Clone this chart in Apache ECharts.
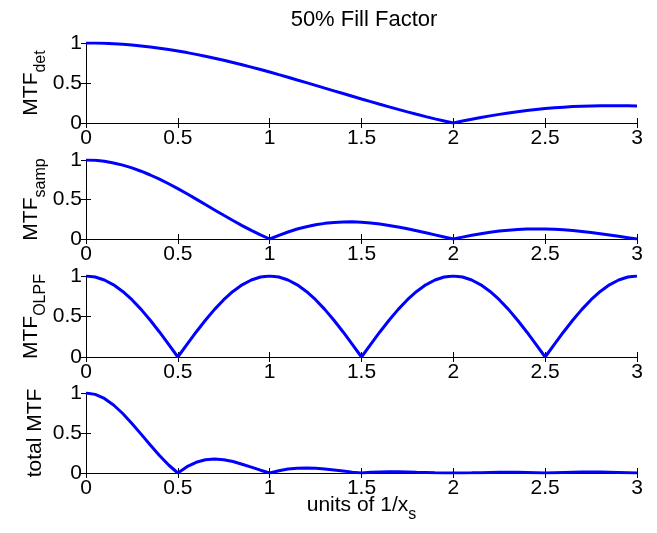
<!DOCTYPE html>
<html>
<head>
<meta charset="utf-8">
<script src="https://cdn.jsdelivr.net/npm/echarts@6/dist/echarts.min.js"></script>
<style>
  html, body { margin: 0; padding: 0; background: #fff; }
  #chart { width: 657px; height: 533px; }
</style>
</head>
<body>
<div id="chart"></div>
<script>
// frequency in units of 1/x_s, step 0.05
var freq = [
  0, 0.05, 0.1, 0.15, 0.2, 0.25, 0.3, 0.35, 0.4, 0.45,
  0.5, 0.55, 0.6, 0.65, 0.7, 0.75, 0.8, 0.85, 0.9, 0.95,
  1, 1.05, 1.1, 1.15, 1.2, 1.25, 1.3, 1.35, 1.4, 1.45,
  1.5, 1.55, 1.6, 1.65, 1.7, 1.75, 1.8, 1.85, 1.9, 1.95,
  2, 2.05, 2.1, 2.15, 2.2, 2.25, 2.3, 2.35, 2.4, 2.45,
  2.5, 2.55, 2.6, 2.65, 2.7, 2.75, 2.8, 2.85, 2.9, 2.95, 3
];
var mtfDet = [
  1, 0.999, 0.996, 0.991, 0.984, 0.975, 0.963, 0.950, 0.935, 0.919,
  0.900, 0.880, 0.858, 0.835, 0.810, 0.784, 0.757, 0.728, 0.699, 0.668,
  0.637, 0.604, 0.572, 0.538, 0.505, 0.471, 0.436, 0.402, 0.368, 0.334,
  0.300, 0.267, 0.234, 0.202, 0.170, 0.139, 0.109, 0.080, 0.052, 0.026,
  0, 0.024, 0.047, 0.069, 0.089, 0.108, 0.126, 0.142, 0.156, 0.169,
  0.180, 0.190, 0.198, 0.205, 0.210, 0.214, 0.216, 0.217, 0.217, 0.215, 0.212
];
var mtfSamp = [
  1, 0.996, 0.984, 0.963, 0.935, 0.900, 0.858, 0.810, 0.757, 0.699,
  0.637, 0.572, 0.505, 0.436, 0.368, 0.300, 0.234, 0.170, 0.109, 0.052,
  0, 0.047, 0.089, 0.126, 0.156, 0.180, 0.198, 0.210, 0.216, 0.217,
  0.212, 0.203, 0.189, 0.172, 0.151, 0.129, 0.104, 0.078, 0.052, 0.026,
  0, 0.024, 0.047, 0.067, 0.085, 0.100, 0.112, 0.121, 0.126, 0.128,
  0.127, 0.123, 0.116, 0.107, 0.095, 0.082, 0.067, 0.051, 0.034, 0.017, 0
];
var mtfOlpf = [
  1, 0.988, 0.951, 0.891, 0.809, 0.707, 0.588, 0.454, 0.309, 0.156,
  0, 0.156, 0.309, 0.454, 0.588, 0.707, 0.809, 0.891, 0.951, 0.988,
  1, 0.988, 0.951, 0.891, 0.809, 0.707, 0.588, 0.454, 0.309, 0.156,
  0, 0.156, 0.309, 0.454, 0.588, 0.707, 0.809, 0.891, 0.951, 0.988,
  1, 0.988, 0.951, 0.891, 0.809, 0.707, 0.588, 0.454, 0.309, 0.156,
  0, 0.156, 0.309, 0.454, 0.588, 0.707, 0.809, 0.891, 0.951, 0.988, 1
];
var mtfTotal = [
  1, 0.983, 0.932, 0.850, 0.744, 0.620, 0.486, 0.350, 0.219, 0.100,
  0, 0.079, 0.134, 0.165, 0.175, 0.166, 0.143, 0.110, 0.073, 0.035,
  0, 0.028, 0.049, 0.060, 0.064, 0.060, 0.051, 0.038, 0.025, 0.011,
  0, 0.008, 0.014, 0.016, 0.015, 0.013, 0.009, 0.006, 0.003, 0.001,
  0, 0.001, 0.002, 0.004, 0.006, 0.008, 0.008, 0.008, 0.006, 0.003,
  0, 0.004, 0.007, 0.010, 0.012, 0.012, 0.012, 0.010, 0.007, 0.004, 0
];
var xTicks = { min: 0, max: 3, interval: 0.5 };
var yTicks = { min: 0, max: 1, interval: 0.5 };

var panels = [
  { name: '{m|MTF}{s|det}', values: mtfDet, top: 43, height: 80, gap: 37 },
  { name: '{m|MTF}{s|samp}', values: mtfSamp, top: 160, height: 79, gap: 37 },
  { name: '{m|MTF}{s|OLPF}', values: mtfOlpf, top: 276, height: 81, gap: 37 },
  { name: '{t|total MTF}', values: mtfTotal, top: 393, height: 80, gap: 39 }
];

var font = 'Liberation Sans, Arial, Helvetica, sans-serif';
var ink = '#000';

var grids = [], xAxes = [], yAxes = [], series = [];
panels.forEach(function(p, i) {
  grids.push({ left: 86, right: 20, top: p.top, height: p.height });

  // bottom x axis with labels
  xAxes.push({
    type: 'value', gridIndex: i, position: 'bottom',
    min: xTicks.min, max: xTicks.max, interval: xTicks.interval,
    axisLine: { show: true, lineStyle: { color: ink, width: 1 } },
    axisTick: { show: true, inside: true, length: 5, lineStyle: { color: ink } },
    axisLabel: { color: ink, fontSize: 21, fontFamily: font, margin: 5 },
    splitLine: { show: false },
    name: i === 3 ? '{t|units of 1/x}{s|s}' : '',
    nameLocation: 'middle',
    nameGap: 14,
    nameMoveOverlap: false,
    nameTextStyle: {
      rich: {
        t: { fontSize: 21, fontFamily: font, color: ink, lineHeight: 22 },
        s: { fontSize: 16, fontFamily: font, color: ink, verticalAlign: 'bottom', lineHeight: 36 }
      }
    }
  });
  // top x axis, ticks only
  xAxes.push({
    type: 'value', gridIndex: i, position: 'top',
    min: xTicks.min, max: xTicks.max, interval: xTicks.interval,
    axisLine: { show: true, lineStyle: { color: ink, width: 1 } },
    axisTick: { show: true, inside: true, length: 5, lineStyle: { color: ink } },
    axisLabel: { show: false },
    splitLine: { show: false }
  });

  yAxes.push({
    type: 'value', gridIndex: i, position: 'left',
    min: yTicks.min, max: yTicks.max, interval: yTicks.interval,
    axisLine: { show: true, lineStyle: { color: ink, width: 1 } },
    axisTick: { show: true, inside: true, length: 5, lineStyle: { color: ink } },
    axisLabel: { color: ink, fontSize: 21, fontFamily: font, margin: 4 },
    splitLine: { show: false },
    name: p.name,
    nameLocation: 'middle',
    nameRotate: 90,
    nameGap: p.gap,
    nameMoveOverlap: false,
    nameTextStyle: {
      rich: {
        m: { fontSize: 21, fontFamily: font, color: ink, lineHeight: 24 },
        s: { fontSize: 16, fontFamily: font, color: ink, verticalAlign: 'bottom', lineHeight: 36 },
        t: { fontSize: 21, fontFamily: font, color: ink, lineHeight: 24 }
      }
    }
  });
  yAxes.push({
    type: 'value', gridIndex: i, position: 'right',
    min: yTicks.min, max: yTicks.max, interval: yTicks.interval,
    axisLine: { show: true, lineStyle: { color: ink, width: 1 } },
    axisTick: { show: true, inside: true, length: 5, lineStyle: { color: ink } },
    axisLabel: { show: false },
    splitLine: { show: false }
  });

  series.push({
    type: 'line',
    xAxisIndex: i * 2,
    yAxisIndex: i * 2,
    showSymbol: false,
    symbol: 'none',
    lineStyle: { color: '#0000ff', width: 3 },
    data: freq.map(function(f, k) { return [f, p.values[k]]; })
  });
});

var chart = echarts.init(document.getElementById('chart'), null, { renderer: 'canvas' });
chart.setOption({
  animation: false,
  backgroundColor: '#fff',
  title: {
    text: '50% Fill Factor',
    left: 359,
    top: 4,
    textAlign: 'center',
    textStyle: { color: ink, fontSize: 22, fontWeight: 'normal', fontFamily: font }
  },
  grid: grids,
  xAxis: xAxes,
  yAxis: yAxes,
  series: series
});

window.addEventListener('resize', function() {
  chart.resize();
});
</script>
</body>
</html>
